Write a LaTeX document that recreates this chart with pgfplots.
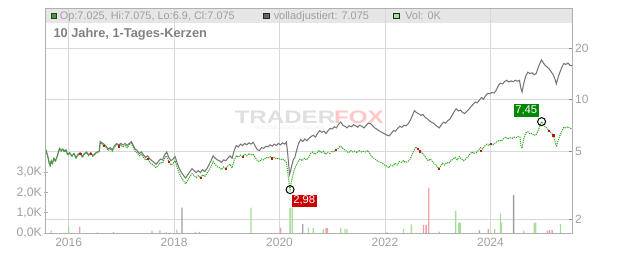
\documentclass[border=0pt]{standalone}
\usepackage{pgfplots}
\pgfplotsset{compat=1.18}
\usepackage{fontspec}
\setmainfont{Liberation Sans}
\definecolor{grn}{HTML}{33AA22}
\definecolor{gry}{HTML}{777777}
\definecolor{hdr}{HTML}{E6E6E6}
\definecolor{gridc}{HTML}{D8D8D8}
\definecolor{axc}{HTML}{B0B0B0}
\definecolor{tickc}{HTML}{A0A0A0}
\definecolor{vgrn}{HTML}{A8DC98}
\definecolor{vred}{HTML}{F0A0A8}
\definecolor{vgry}{HTML}{A0A0A0}
\definecolor{lblred}{HTML}{CC0000}
\definecolor{lblgrn}{HTML}{008800}
\definecolor{redm}{HTML}{CC1111}
\begin{document}
\begin{tikzpicture}
\useasboundingbox (0,0) rectangle (474pt,189.75pt);
\begin{scope}[x=0.75pt,y=0.75pt]
\fill[hdr] (45.7,230.3) rectangle (572.7,244.7);
\node[anchor=center,inner sep=0,text=gray!25,font=\bfseries\fontsize{13.6}{14}\selectfont,xscale=1.33] at (285,136) {TRADER};
\node[anchor=center,inner sep=0,text=red!22,font=\bfseries\fontsize{13.6}{14}\selectfont,xscale=1.33] at (359,136) {FOX};
\node[anchor=center,inner sep=0,text=gray!15,font=\fontsize{3.6}{4}\selectfont] at (290,125) {REALTIME STOCK SCREENING};
\end{scope}
\begin{axis}[
  name=price,
  at={(34.275pt,14.775pt)}, anchor=south west,
  width=395.25pt, height=168.75pt, scale only axis,
  xmin=2015.565, xmax=2025.56,
  ymode=log, ymin=1.655, ymax=34.3,
  xtick={2016,2018,2020,2022,2024},
  xticklabels={2016,2018,2020,2022,2024},
  ytick={2,5,10,20}, yticklabels={2,5,10,20},
  yticklabel pos=right, ytick pos=right, xtick pos=bottom,
  grid=major, major grid style={draw=gridc, line width=0.75pt},
  axis line style={draw=axc, line width=0.75pt},
  tick style={draw=black!45, line width=0.75pt},
  x tick style={draw=none},
  major tick length=3pt, tick align=inside,
  tick label style={font=\fontsize{9}{10}\selectfont, text=tickc},
  xticklabel style={yshift=0pt},
  yticklabel style={inner xsep=1.6pt},
]
\addplot[gry, line width=0.8pt] coordinates {
(2015.57,5.10)(2015.59,4.85)(2015.61,4.60)(2015.63,4.30)(2015.65,4.15)(2015.67,4.40)(2015.69,4.25)(2015.72,4.55)(2015.75,4.40)(2015.78,4.65)
(2015.81,5.00)(2015.83,5.20)(2015.86,5.05)(2015.89,5.15)(2015.92,5.00)(2015.95,5.10)(2015.98,4.80)(2016.02,4.90)(2016.06,4.70)(2016.10,4.85)
(2016.14,4.60)(2016.18,4.80)(2016.22,4.90)(2016.26,4.65)(2016.30,4.85)(2016.34,4.95)(2016.38,4.75)(2016.42,4.90)(2016.46,4.70)(2016.50,4.85)
(2016.54,4.95)(2016.58,5.00)(2016.60,5.70)(2016.63,5.60)(2016.67,5.50)(2016.71,5.35)(2016.75,5.15)(2016.79,5.25)(2016.83,5.10)(2016.87,5.40)
(2016.91,5.55)(2016.95,5.45)(2016.99,5.55)(2017.03,5.45)(2017.07,5.55)(2017.11,5.40)(2017.15,5.55)(2017.19,5.70)(2017.22,5.45)(2017.26,5.15)
(2017.30,5.05)(2017.34,4.85)(2017.38,4.95)(2017.42,4.75)(2017.46,4.60)(2017.50,4.70)(2017.54,4.50)(2017.58,4.40)(2017.62,4.30)(2017.66,4.20)
(2017.70,4.35)(2017.74,4.50)(2017.78,4.45)(2017.82,4.75)(2017.86,4.95)(2017.90,4.60)(2017.94,4.40)(2017.98,4.50)(2018.02,4.65)(2018.06,4.25)
(2018.10,3.95)(2018.14,3.75)(2018.18,3.60)(2018.22,3.48)(2018.26,3.65)(2018.30,3.80)(2018.34,3.95)(2018.38,3.85)(2018.42,3.75)(2018.46,3.85)
(2018.50,3.75)(2018.54,3.90)(2018.58,3.80)(2018.62,3.95)(2018.66,4.15)(2018.70,4.40)(2018.74,4.70)(2018.78,4.55)(2018.82,4.45)(2018.86,4.40)
(2018.90,4.30)(2018.94,4.45)(2018.98,4.40)(2019.02,4.55)(2019.06,4.70)(2019.10,4.55)(2019.14,5.05)(2019.18,5.40)(2019.22,5.30)(2019.26,5.50)
(2019.30,5.40)(2019.34,5.55)(2019.38,5.45)(2019.42,5.60)(2019.46,5.50)(2019.50,5.65)(2019.54,5.35)(2019.58,5.10)(2019.62,5.05)(2019.66,5.25)
(2019.70,5.20)(2019.74,5.35)(2019.78,5.30)(2019.82,5.45)(2019.86,5.35)(2019.90,5.50)(2019.94,5.40)(2019.98,5.55)(2020.02,5.45)(2020.06,5.60)
(2020.10,5.50)(2020.13,5.65)(2020.15,5.00)(2020.17,4.30)(2020.19,3.67)(2020.21,3.85)(2020.23,4.10)(2020.26,4.45)(2020.29,4.60)(2020.32,5.00)
(2020.36,5.55)(2020.40,5.85)(2020.44,5.70)(2020.48,5.90)(2020.52,5.75)(2020.56,5.95)(2020.60,6.10)(2020.64,6.20)(2020.68,6.05)(2020.72,6.35)
(2020.76,6.60)(2020.80,6.45)(2020.84,6.55)(2020.88,6.35)(2020.92,6.60)(2020.96,6.80)(2021.00,6.75)(2021.04,6.95)(2021.08,6.85)(2021.12,7.20)
(2021.16,7.40)(2021.20,7.10)(2021.24,7.00)(2021.28,6.85)(2021.32,7.05)(2021.36,6.95)(2021.40,7.15)(2021.44,7.05)(2021.48,6.90)(2021.52,7.10)
(2021.56,7.00)(2021.60,6.85)(2021.64,7.05)(2021.68,7.30)(2021.72,7.25)(2021.76,7.10)(2021.80,6.85)(2021.84,6.75)(2021.88,6.60)(2021.92,6.50)
(2021.96,6.40)(2022.00,6.30)(2022.04,6.20)(2022.08,6.15)(2022.12,6.35)(2022.16,6.60)(2022.20,6.55)(2022.24,6.80)(2022.28,7.00)(2022.32,6.90)
(2022.36,7.10)(2022.40,7.05)(2022.44,7.25)(2022.48,7.60)(2022.52,8.10)(2022.56,8.65)(2022.60,8.40)(2022.64,8.30)(2022.68,8.10)(2022.72,8.20)
(2022.76,7.90)(2022.80,7.75)(2022.84,7.55)(2022.88,7.40)(2022.92,7.30)(2022.96,7.10)(2023.00,6.95)(2023.03,6.85)(2023.07,7.15)(2023.11,7.40)
(2023.15,7.30)(2023.19,7.55)(2023.23,7.70)(2023.27,8.10)(2023.31,8.50)(2023.35,8.85)(2023.39,8.60)(2023.43,8.70)(2023.47,8.45)(2023.51,8.30)
(2023.55,8.55)(2023.59,8.80)(2023.63,9.10)(2023.67,9.40)(2023.71,9.70)(2023.75,9.60)(2023.79,9.95)(2023.83,10.30)(2023.87,10.10)(2023.91,10.60)
(2023.95,10.90)(2023.99,10.85)(2024.03,11.05)(2024.07,10.95)(2024.11,11.40)(2024.15,12.10)(2024.19,12.50)(2024.23,12.40)(2024.27,12.80)(2024.31,13.00)
(2024.35,12.70)(2024.39,12.90)(2024.43,12.75)(2024.47,13.00)(2024.51,12.85)(2024.55,13.00)(2024.58,11.60)(2024.60,11.10)(2024.63,12.40)(2024.67,13.80)
(2024.71,14.50)(2024.75,14.20)(2024.79,14.40)(2024.83,14.00)(2024.87,14.30)(2024.91,15.60)(2024.94,16.40)(2024.97,17.10)(2025.00,16.50)(2025.03,16.00)
(2025.07,15.60)(2025.11,15.20)(2025.15,14.60)(2025.19,14.00)(2025.22,13.30)(2025.25,12.40)(2025.27,13.10)(2025.31,14.30)(2025.35,15.40)(2025.39,16.30)
(2025.43,16.10)(2025.47,16.40)(2025.51,15.90)(2025.55,15.80)
};
\addplot[grn, line width=0.75pt, dash pattern=on 0.9pt off 0.7pt] coordinates {
(2015.57,5.05)(2015.59,4.80)(2015.61,4.55)(2015.63,4.25)(2015.65,4.10)(2015.67,4.35)(2015.69,4.20)(2015.72,4.50)(2015.75,4.35)(2015.78,4.60)
(2015.81,4.95)(2015.83,5.15)(2015.86,5.00)(2015.89,5.10)(2015.92,4.95)(2015.95,5.05)(2015.98,4.75)(2016.02,4.85)(2016.06,4.65)(2016.10,4.80)
(2016.14,4.55)(2016.18,4.75)(2016.22,4.85)(2016.26,4.60)(2016.30,4.80)(2016.34,4.90)(2016.38,4.70)(2016.42,4.85)(2016.46,4.65)(2016.50,4.80)
(2016.54,4.90)(2016.58,4.95)(2016.60,5.60)(2016.63,5.50)(2016.67,5.40)(2016.71,5.25)(2016.75,5.05)(2016.79,5.15)(2016.83,5.00)(2016.87,5.30)
(2016.91,5.45)(2016.95,5.35)(2016.99,5.45)(2017.03,5.30)(2017.07,5.40)(2017.11,5.25)(2017.15,5.45)(2017.19,5.55)(2017.22,5.30)(2017.26,5.00)
(2017.30,4.90)(2017.34,4.70)(2017.38,4.80)(2017.42,4.60)(2017.46,4.45)(2017.50,4.50)(2017.54,4.30)(2017.58,4.20)(2017.62,4.10)(2017.66,4.00)
(2017.70,4.15)(2017.74,4.30)(2017.78,4.25)(2017.82,4.55)(2017.86,4.70)(2017.90,4.35)(2017.94,4.15)(2017.98,4.25)(2018.02,4.40)(2018.06,4.00)
(2018.10,3.70)(2018.14,3.50)(2018.18,3.35)(2018.22,3.22)(2018.26,3.40)(2018.30,3.55)(2018.34,3.70)(2018.38,3.60)(2018.42,3.50)(2018.46,3.60)
(2018.50,3.50)(2018.54,3.65)(2018.58,3.55)(2018.62,3.70)(2018.66,3.85)(2018.70,4.05)(2018.74,4.35)(2018.78,4.20)(2018.82,4.05)(2018.86,4.00)
(2018.90,3.90)(2018.94,4.05)(2018.98,3.95)(2019.02,4.10)(2019.06,4.20)(2019.10,4.00)(2019.14,4.45)(2019.18,4.70)(2019.22,4.60)(2019.26,4.75)
(2019.30,4.65)(2019.34,4.80)(2019.38,4.70)(2019.42,4.85)(2019.46,4.75)(2019.50,4.80)(2019.54,4.60)(2019.58,4.40)(2019.62,4.35)(2019.66,4.50)
(2019.70,4.45)(2019.74,4.60)(2019.78,4.55)(2019.82,4.65)(2019.86,4.55)(2019.90,4.60)(2019.94,4.50)(2019.98,4.55)(2020.02,4.45)(2020.06,4.50)
(2020.10,4.40)(2020.13,4.30)(2020.15,3.90)(2020.17,3.45)(2020.19,3.10)(2020.20,2.98)(2020.22,3.25)(2020.25,3.60)(2020.28,3.90)(2020.31,4.10)
(2020.35,4.35)(2020.39,4.50)(2020.43,4.40)(2020.47,4.55)(2020.51,4.45)(2020.55,4.60)(2020.59,4.85)(2020.63,4.95)(2020.67,4.80)(2020.71,4.90)
(2020.75,5.05)(2020.79,4.90)(2020.83,5.00)(2020.87,4.80)(2020.91,4.90)(2020.95,4.85)(2020.99,5.00)(2021.03,4.95)(2021.07,5.10)(2021.11,5.20)
(2021.15,5.35)(2021.19,5.25)(2021.23,5.10)(2021.27,5.00)(2021.31,4.90)(2021.35,5.05)(2021.39,4.95)(2021.43,5.00)(2021.47,4.90)(2021.51,5.05)
(2021.55,4.95)(2021.59,5.00)(2021.63,4.95)(2021.67,5.05)(2021.71,4.85)(2021.75,4.65)(2021.79,4.55)(2021.83,4.45)(2021.87,4.35)(2021.91,4.30)
(2021.95,4.25)(2021.99,4.15)(2022.03,4.10)(2022.07,4.00)(2022.11,4.15)(2022.15,4.10)(2022.19,4.25)(2022.23,4.15)(2022.27,4.35)(2022.31,4.30)
(2022.35,4.40)(2022.39,4.30)(2022.43,4.35)(2022.47,4.45)(2022.51,4.75)(2022.55,5.05)(2022.58,5.30)(2022.62,5.15)(2022.66,5.00)(2022.70,4.90)
(2022.74,4.75)(2022.78,4.55)(2022.82,4.40)(2022.86,4.50)(2022.90,4.35)(2022.94,4.20)(2022.98,4.10)(2023.02,3.95)(2023.05,4.05)(2023.09,4.25)
(2023.13,4.15)(2023.17,4.30)(2023.21,4.25)(2023.25,4.40)(2023.29,4.50)(2023.33,4.60)(2023.37,4.45)(2023.41,4.65)(2023.45,4.50)(2023.49,4.40)
(2023.53,4.50)(2023.57,4.65)(2023.61,4.80)(2023.65,4.95)(2023.69,4.85)(2023.73,4.90)(2023.77,5.05)(2023.81,5.25)(2023.85,5.15)(2023.89,5.35)
(2023.93,5.50)(2023.97,5.40)(2024.01,5.55)(2024.05,5.45)(2024.09,5.60)(2024.13,5.70)(2024.17,5.80)(2024.21,5.75)(2024.25,5.95)(2024.29,6.05)
(2024.33,5.90)(2024.37,6.00)(2024.41,5.95)(2024.45,6.05)(2024.49,6.00)(2024.53,6.10)(2024.56,6.05)(2024.58,5.35)(2024.60,5.20)(2024.63,5.90)
(2024.67,6.40)(2024.71,6.50)(2024.75,6.30)(2024.79,6.35)(2024.83,6.20)(2024.87,6.25)(2024.91,6.70)(2024.94,7.10)(2024.97,7.45)(2025.00,7.20)
(2025.03,7.00)(2025.07,6.85)(2025.11,6.60)(2025.15,6.40)(2025.19,6.20)(2025.22,5.80)(2025.25,5.30)(2025.27,5.60)(2025.31,6.10)(2025.35,6.50)
(2025.39,6.90)(2025.43,6.85)(2025.47,6.95)(2025.51,6.80)(2025.55,6.75)
};
\addplot[only marks, mark=square*, mark size=0.45pt, redm] coordinates {
(2016.22,4.85)(2016.42,4.85)(2016.67,5.40)(2016.95,5.35)(2017.50,4.50)(2017.90,4.35)(2018.50,3.50)(2018.98,3.95)
(2019.30,4.65)(2019.86,4.55)(2021.07,5.10)(2022.62,5.15)(2022.66,5.00)(2023.02,3.95)(2023.81,5.05)(2024.01,5.55)(2025.11,6.60)(2025.19,6.20)
};
\addplot[only marks, mark=o, mark size=3pt, black, line width=0.75pt] coordinates {(2020.20,2.98)(2024.97,7.45)};
\end{axis}
\begin{axis}[
  at={(34.275pt,14.775pt)}, anchor=south west,
  width=395.25pt, height=168.75pt, scale only axis,
  xmin=2015.565, xmax=2025.56,
  ymin=0, ymax=11.08,
  xtick=\empty,
  ytick={0,1,2,3}, yticklabels={{0,0K},{1,0K},{2,0K},{3,0K}},
  ytick pos=left,
  axis line style={draw=none},
  tick style={draw=axc, line width=0.75pt},
  major tick length=3pt, tick align=center,
  tick label style={font=\fontsize{9.2}{10}\selectfont, text=tickc},
  yticklabel style={inner xsep=1.2pt},
]
\addplot[ybar, bar width=1pt, bar shift=0pt, fill=vgrn, draw=none] coordinates {
(2015.67,0.13)(2016.00,0.30)(2016.55,0.05)(2017.73,0.15)(2017.85,0.07)(2018.05,0.18)(2018.40,0.07)(2019.46,1.26)
(2020.20,1.26)(2020.24,1.26)(2020.55,0.28)(2020.64,0.25)(2020.83,0.20)(2021.16,0.28)(2021.24,0.22)(2021.28,0.22)
(2022.35,0.22)(2022.50,0.44)(2023.03,0.08)(2023.34,1.12)(2023.40,0.53)(2023.43,0.53)(2024.08,0.20)(2024.19,0.98)
(2024.21,0.53)(2024.63,0.13)(2024.83,0.53)(2024.86,0.53)(2025.33,0.46)
};
\addplot[ybar, bar width=1pt, bar shift=0pt, fill=vred, draw=none] coordinates {
(2016.21,0.33)(2016.85,0.07)(2017.58,0.13)(2018.48,0.07)(2020.02,0.28)(2020.88,0.25)(2020.91,0.25)(2022.04,0.05)
(2022.73,0.41)(2022.78,0.41)(2022.83,2.25)(2023.79,0.16)(2023.96,0.20)(2025.08,0.13)(2025.12,0.16)(2025.17,0.16)
};
\addplot[ybar, bar width=1pt, bar shift=0pt, fill=vgry, draw=none] coordinates {
(2018.15,1.26)(2020.44,0.46)(2024.44,1.89)
};
\end{axis}
\begin{scope}[x=0.75pt,y=0.75pt]
\draw[axc, line width=0.75pt] (45.7,19.7) rectangle (572.7,244.7);
\draw[fill=grn, draw=black!80, line width=0.5pt] (50.9,234.5) rectangle (56.5,240.1);
\node[anchor=base west, inner sep=0, text=tickc, font=\fontsize{8.2}{9}\selectfont] at (59.5,233.7) {Op:7.025, Hi:7.075, Lo:6.9, Cl:7.075};
\draw[fill=black!60, draw=black!85, line width=0.5pt] (263.4,234.5) rectangle (269,240.1);
\node[anchor=base west, inner sep=0, text=tickc, font=\fontsize{8.2}{9}\selectfont] at (273.5,233.7) {volladjustiert: 7.075};
\draw[fill=vgrn, draw=black!85, line width=0.5pt] (393.6,234.5) rectangle (399.2,240.1);
\node[anchor=base west, inner sep=0, text=tickc, font=\fontsize{8.2}{9}\selectfont] at (405,233.7) {Vol: 0K};
\node[anchor=base west, inner sep=0, text=black!50, font=\bfseries\fontsize{9.6}{11}\selectfont] at (53.3,215.3) {10 Jahre, 1-Tages-Kerzen};
\node[fill=lblred, text=white, inner sep=1.2pt, font=\fontsize{8.4}{9}\selectfont, minimum width=17.8pt, minimum height=8.8pt] at (304.2,52.2) {2,98};
\node[fill=lblgrn, text=white, inner sep=1.2pt, font=\fontsize{8.4}{9}\selectfont, minimum width=18.5pt, minimum height=9.8pt] at (526.3,142.2) {7,45};
\end{scope}
\end{tikzpicture}
\end{document}
